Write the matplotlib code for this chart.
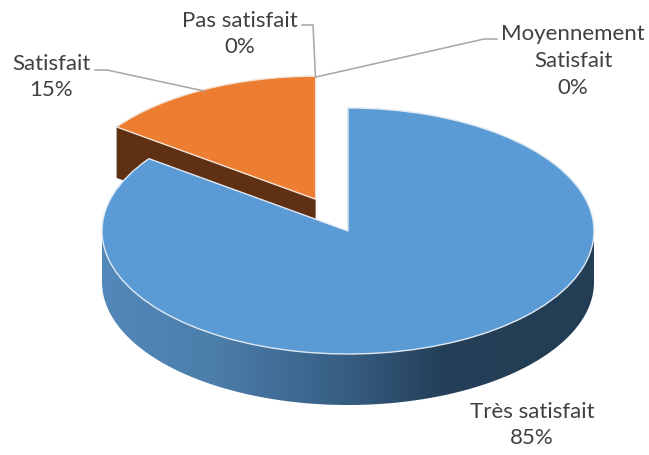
import numpy as np
import matplotlib
matplotlib.use("Agg")
import matplotlib.pyplot as plt
from matplotlib.colors import LinearSegmentedColormap
from matplotlib.patches import Polygon

categories = ["Très satisfait", "Satisfait", "Pas satisfait", "Moyennement\nSatisfait"]
values = [85, 15, 0, 0]
explode = [0, 0.29, 0, 0]
colors = ["#5B9BD5", "#ED7D31", "#A5A5A5", "#FFC000"]

W, H = 649, 455
CX, CY, RX, RY = 348.0, 231.0, 246.0, 123.0
DEPTH = 51.0 / RY

fig = plt.figure(figsize=(W / 100, H / 100), dpi=100, facecolor="white")
ax = fig.add_axes([0, 0, 1, 1])
wedges, _ = ax.pie(values, explode=explode, colors=colors, startangle=90, counterclock=False,
                   radius=1, wedgeprops=dict(edgecolor="#dfe8f2", linewidth=1.0))
ax.set_aspect("auto")
ax.set_xlim((0 - CX) / RX, (W - CX) / RX)
ax.set_ylim((CY - H) / RY, CY / RY)
ax.axis("off")


def P(px, py):
    return (px - CX) / RX, (CY - py) / RY


# Orange slice: visible radial side wall
orange = wedges[1]
orange.set_zorder(2)
orange.set_edgecolor("#f3e3d6")
ocx, ocy = orange.center
ang = np.deg2rad(max(orange.theta1, orange.theta2))
rx, ry = ocx + np.cos(ang), ocy + np.sin(ang)
ax.add_patch(Polygon([(ocx, ocy), (rx, ry), (rx, ry - DEPTH), (ocx, ocy - DEPTH)],
                     closed=True, facecolor="#5F3013", edgecolor="none", zorder=1))

# Blue slice: outer wall with horizontal gradient
t = np.linspace(np.pi, 2 * np.pi, 300)
ex, ey = np.cos(t), np.sin(t)
wall = Polygon(np.r_[np.c_[ex, ey], np.c_[ex[::-1], ey[::-1] - DEPTH]], closed=True,
               facecolor="none", edgecolor="none", zorder=3)
ax.add_patch(wall)
cmap = LinearSegmentedColormap.from_list(
    "wall", [(0.0, "#5388BA"), (0.22, "#4C7EAB"), (0.5, "#365D82"), (0.70, "#243F57"), (1.0, "#233D54")])
img = ax.imshow(np.linspace(0, 1, 400)[None, :], extent=(-1, 1, -1 - DEPTH, 0.01), cmap=cmap,
                aspect="auto", zorder=3, interpolation="bilinear")
img.set_clip_path(wall)
ax.set_xlim((0 - CX) / RX, (W - CX) / RX)
ax.set_ylim((CY - H) / RY, CY / RY)

wedges[0].set_zorder(4)

# Data labels
label_px = [(532, 425), (51, 77), (240, 34), (573, 61)]
for cat, val, (lx, ly) in zip(categories, values, label_px):
    x, y = P(lx, ly)
    ax.text(x, y, f"{cat}\n{val}%", ha="center", va="center", color="#404040", fontsize=16,
            family="Lato", linespacing=1.42, zorder=6)

# Leader lines
leaders = [
    [(95, 70), (107, 70), (204, 91)],
    [(302, 25), (313, 25), (315.5, 77)],
    [(316, 77), (484, 39), (497, 39)],
]
for pts in leaders:
    xy = np.array([P(*p) for p in pts])
    ax.plot(xy[:, 0], xy[:, 1], color="#A6A6A6", lw=1.1, zorder=5, solid_joinstyle="miter")

fig.savefig("out.png", dpi=100, facecolor="white")
